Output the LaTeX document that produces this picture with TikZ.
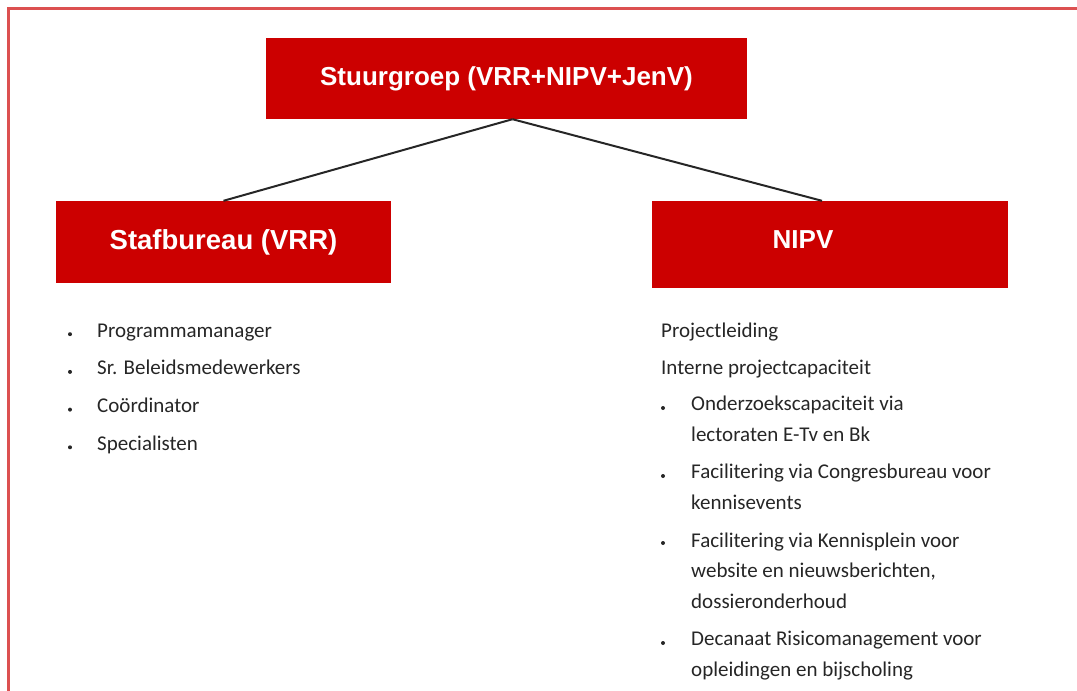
\documentclass[tikz,border=0pt]{standalone}
\usepackage{fontspec}
\setmainfont{Liberation Sans}
\newfontfamily\listfont{Carlito}
\definecolor{boxred}{RGB}{204,0,0}
\definecolor{framered}{RGB}{220,80,80}
\definecolor{listgray}{RGB}{38,38,38}

\begin{document}
\begin{tikzpicture}[x=1pt, y=-1pt,
                      box/.style = {shape=rectangle, fill=boxred, text=white,
                        font=\bfseries\fontsize{26}{30}\selectfont, inner sep=0pt},
                      entry/.style = {anchor=base west, align=left, inner sep=0pt,
                        text=listgray, font=\listfont\fontsize{21}{30.5}\selectfont},
                      dot/.style = {shape=circle, fill=listgray, inner sep=0pt,
                        minimum size=4pt},
                      link/.style = {draw=black!85, line width=2pt}]
  \useasboundingbox (0,0) rectangle (1077,691);
  \draw[framered, line width=3pt] (8,691) -- (8,8) -- (1077,8);

  \node[box, minimum width=481pt, minimum height=81pt] (stuur) at (506.5,78.5)
    {Stuurgroep (VRR+NIPV+JenV)};
  \node[box, minimum width=335pt, minimum height=82pt,
        font=\bfseries\fontsize{27.5}{32}\selectfont] (staf) at (223.5,242)
    {Stafbureau (VRR)};
  \node[box, minimum width=356pt, minimum height=87pt, text depth=10pt] (nipv) at (830,244.5)
    {NIPV\hspace*{54pt}};

  \coordinate (fork) at ([xshift=6pt]stuur.south);
  \draw[link] (fork) -- (staf.north);
  \draw[link] (fork) -- ([xshift=-8pt]nipv.north);

  \foreach \txt [count=\i] in {Programmamanager, Sr. Beleidsmedewerkers,
                               Coördinator, Specialisten} {
    \node[entry] (staf\i) at (97, 299.5+37.7*\i) {\txt};
    \node[dot] (stafdot\i) at (70, 296.5+37.7*\i) {};
  }

  % multi-line entries sit on the baseline of their last line
  \node[entry] (leiding) at (661,337) {Projectleiding};
  \node[entry] (intern) at (661,374) {Interne projectcapaciteit};
  \node[entry] (onderzoek) at (691,441) {Onderzoekscapaciteit via\\lectoraten E-Tv en Bk};
  \node[entry] (congres) at (691,509) {Facilitering via Congresbureau voor\\kennisevents};
  \node[entry] (kennisplein) at (691,608)
    {Facilitering via Kennisplein voor\\website en nieuwsberichten,\\dossieronderhoud};
  \node[entry] (decanaat) at (691,676) {Decanaat Risicomanagement voor\\opleidingen en bijscholing};
  \foreach \pos/\nm in {408/onderzoek, 476/congres, 543/kennisplein, 643/decanaat}
    \node[dot] (\nm dot) at (663,\pos) {};
\end{tikzpicture}
\end{document}
